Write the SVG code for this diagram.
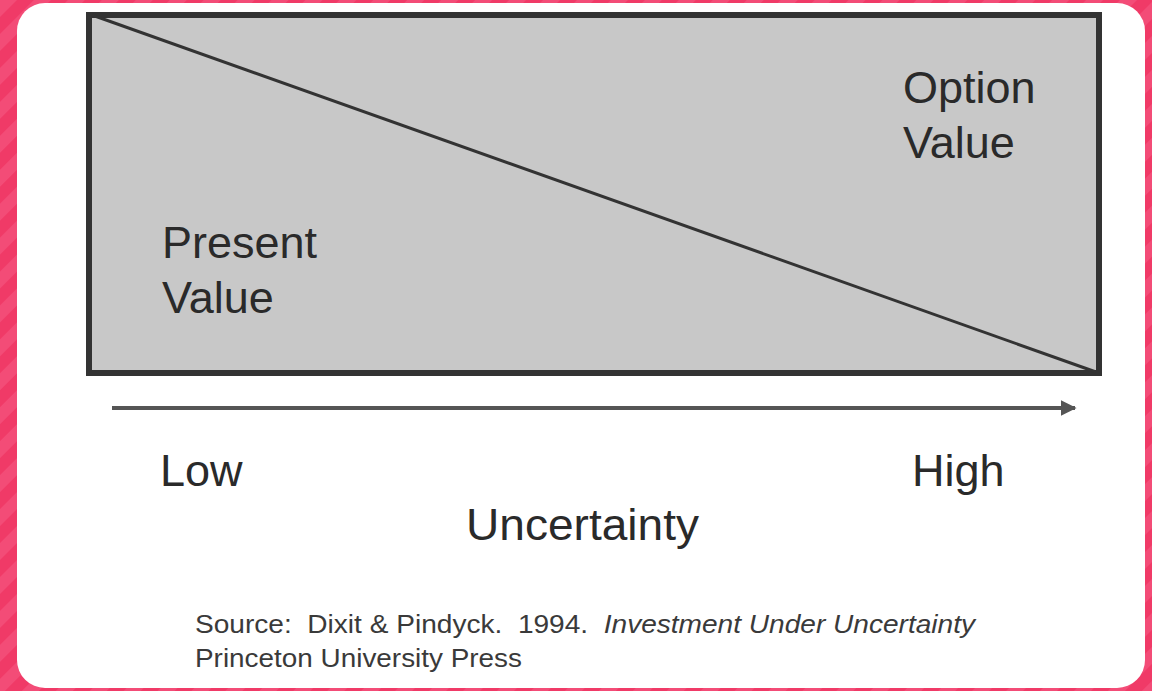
<svg xmlns="http://www.w3.org/2000/svg" width="1152" height="691" viewBox="0 0 1152 691">
<style>
.lbl{font-family:"Liberation Sans",Arial,sans-serif;font-size:45px;fill:#2a2a2a}
.src{font-family:"Liberation Sans",Arial,sans-serif;font-size:25px;fill:#3a3a3a;white-space:pre}
</style>
<defs>
<pattern id="stripes" width="24" height="24" patternUnits="userSpaceOnUse" patternTransform="rotate(45)">
<rect width="24" height="24" fill="#f03a67"/>
<rect width="12" height="24" fill="#f34c77"/>
</pattern>
<marker id="arr" viewBox="0 0 10 10" refX="9" refY="5" markerWidth="4" markerHeight="4" orient="auto" markerUnits="strokeWidth">
<path d="M0,0 L10,5 L0,10 z" fill="#555"/>
</marker>
</defs>
<rect width="1152" height="691" fill="url(#stripes)"/>
<rect x="17" y="3" width="1128" height="685" rx="28" fill="#fff"/>
<g id="chart">
<rect x="89" y="15" width="1010" height="358" fill="#c8c8c8" stroke="#333" stroke-width="6"/>
<line x1="92" y1="15" x2="1096" y2="372" stroke="#333" stroke-width="3"/>
</g>
<g id="connectors">
<line x1="112" y1="408" x2="1075" y2="408" stroke="#555" stroke-width="4" marker-end="url(#arr)"/>
</g>
<g id="option-value"><text class="lbl" x="903" y="103">Option</text><text class="lbl" x="903" y="158">Value</text></g>
<g id="present-value"><text class="lbl" x="162" y="258">Present</text><text class="lbl" x="162" y="313">Value</text></g>
<g id="low"><text class="lbl" x="160" y="486">Low</text></g>
<g id="high"><text class="lbl" x="912" y="486">High</text></g>
<g id="uncertainty"><text class="lbl" x="466" y="540" textLength="233" lengthAdjust="spacingAndGlyphs">Uncertainty</text></g>
<g id="source">
<text class="src" x="195" y="633" textLength="780" lengthAdjust="spacingAndGlyphs" xml:space="preserve">Source:  Dixit &amp; Pindyck.  1994.  <tspan font-style="italic">Investment Under Uncertainty</tspan></text>
<text class="src" x="195" y="667" textLength="327" lengthAdjust="spacingAndGlyphs">Princeton University Press</text>
</g>
</svg>
